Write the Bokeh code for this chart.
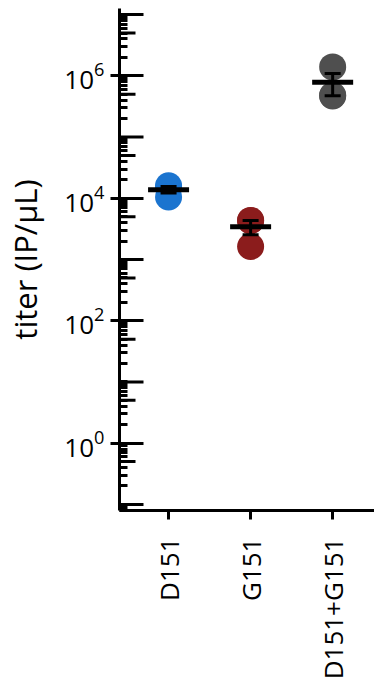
import math
import numpy as np
from bokeh.plotting import figure
from bokeh.models import (ColumnDataSource, FixedTicker, Range1d, Whisker, TeeHead, LogTickFormatter)
from bokeh.embed import file_html
from bokeh.resources import INLINE

# ---- data ----
categories = ["D151", "G151", "D151+G151"]
d151 = [1.6e4, 1.5e4, 1.05e4]
g151 = [4.3e3, 4.35e3, 1.63e3]
d151_g151 = [1.4e6, 4.7e5, 4.8e5]
colors = ["#1b74cf", "#8b1c1c", "#4f4f4f"]
y_label = "titer (IP/\u03bcL)"

groups = [d151, g151, d151_g151]

FONT = "Open Sans"

p = figure(width=374, height=687, y_axis_type="log",
           x_range=Range1d(-0.598, 2.51), y_range=Range1d(10 ** -1.1, 10 ** 7.1),
           output_backend="svg", toolbar_location=None,
           min_border_left=119, min_border_right=0, min_border_top=8, min_border_bottom=177)
p.outline_line_color = None
p.xgrid.visible = False
p.ygrid.visible = False
p.background_fill_color = "white"

# points
px, py, pc = [], [], []
for i, vals in enumerate(groups):
    for v in vals:
        px.append(i); py.append(v); pc.append(colors[i])
p.scatter(x=px, y=py, size=27, fill_color=pc, line_color=None)

# mean and SEM
means, lo, hi, xs = [], [], [], []
for i, vals in enumerate(groups):
    a = np.array(vals)
    m = a.mean()
    sem = a.std(ddof=1) / math.sqrt(len(a))
    xs.append(i); means.append(m); lo.append(m - sem); hi.append(m + sem)
src = ColumnDataSource(dict(x=xs, mean=means, lo=lo, hi=hi))
p.add_layout(Whisker(base="x", upper="hi", lower="lo", source=src, dimension="height",
                     line_width=3, line_color="black", level="overlay",
                     upper_head=TeeHead(size=16, line_width=3, line_color="black"),
                     lower_head=TeeHead(size=16, line_width=3, line_color="black")))
p.scatter(x="x", y="mean", source=src, marker="dash", size=41, line_width=5, line_color="black")

# ---- y axis ----
exps = list(range(-1, 8))
even = [10.0 ** e for e in exps if e % 2 == 0]
odd = [10.0 ** e for e in exps if e % 2 != 0]
minor = [k * 10.0 ** e for e in range(-2, 8) for k in range(2, 10)
         if 10 ** -1.1 <= k * 10.0 ** e <= 10 ** 7.1]
fives = [5 * 10.0 ** e for e in range(-2, 8) if 10 ** -1.1 <= 5 * 10.0 ** e <= 10 ** 7.1]

ya = p.yaxis[0]
ya.ticker = FixedTicker(ticks=even, minor_ticks=minor + odd)
ya.formatter = LogTickFormatter()
ya.major_tick_in = 24
ya.major_tick_out = 9
ya.minor_tick_in = 8
ya.minor_tick_out = 0
ya.axis_line_width = 3
ya.major_tick_line_width = 3
ya.minor_tick_line_width = 3
ya.major_label_text_font = FONT
ya.major_label_text_font_size = "26px"
ya.major_label_text_color = "black"
ya.major_label_standoff = 6
ya.axis_label = y_label
ya.axis_label_text_font = FONT
ya.axis_label_text_font_size = "31px"
ya.axis_label_text_font_style = "normal"
ya.axis_label_text_color = "black"
ya.axis_label_standoff = 15

# longer inward ticks for odd decades and 5x marks
x0 = p.x_range.start
p.ray(x=[x0] * len(odd), y=odd, length=24, length_units="screen", angle=0,
      line_width=3, line_color="black")
p.ray(x=[x0] * len(fives), y=fives, length=16, length_units="screen", angle=0,
      line_width=3, line_color="black")

# ---- x axis ----
xa = p.xaxis[0]
xa.ticker = FixedTicker(ticks=list(range(len(categories))), minor_ticks=[])
xa.major_label_overrides = {i: c for i, c in enumerate(categories)}
xa.major_tick_in = 0
xa.major_tick_out = 9
xa.minor_tick_in = 0
xa.minor_tick_out = 0
xa.axis_line_width = 3
xa.major_tick_line_width = 3
xa.major_label_orientation = math.pi / 2
xa.major_label_text_font = FONT
xa.major_label_text_font_size = "26px"
xa.major_label_text_color = "black"
xa.major_label_standoff = 18

open("out.html", "w").write(file_html(p, INLINE))
